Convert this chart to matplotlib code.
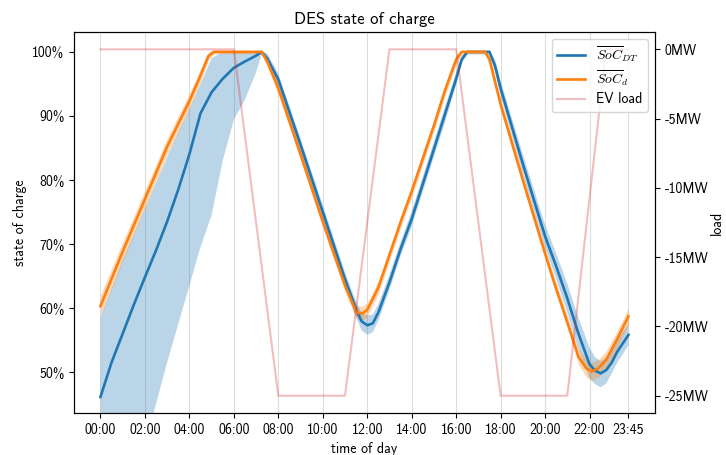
import matplotlib
matplotlib.use("Agg")
import matplotlib.pyplot as plt
import numpy as np
from matplotlib.ticker import FuncFormatter

plt.rcParams['font.family'] = ['cmss10', 'DejaVu Sans']
plt.rcParams['mathtext.fontset'] = 'cm'
plt.rcParams['axes.unicode_minus'] = False

# time of day in hours
t_d = [0, 1, 2, 3, 4, 4.5, 4.85, 5.1, 7.25, 7.5,
       8, 9, 10, 11, 11.5, 11.75, 12, 12.5, 13, 13.5,
       14, 15, 15.5, 16, 16.25, 17.3, 17.5, 18, 19, 20,
       20.5, 21, 21.5, 21.85, 22.1, 22.4, 22.75, 23.25, 23.75]
soc_d = [60.3, 68.8, 77.0, 85.2, 92.3, 96.3, 99.3, 100, 100, 98.5,
         94.3, 84.0, 73.5, 63.5, 59.4, 59.1, 59.7, 63.2, 68.3, 73.4,
         78.2, 88.5, 94.0, 98.8, 100, 100, 98.8, 91.8, 80.0, 68.5,
         63.0, 57.8, 52.4, 50.6, 50.1, 50.6, 51.9, 55.2, 58.7]
soc_d_spread = [1.7, 1.5, 1.4, 1.3, 1.2, 1.0, 0.7, 0.3, 0.3, 0.7,
                0.9, 0.9, 0.9, 0.9, 1.0, 1.1, 1.1, 1.0, 0.9, 0.9,
                0.9, 0.9, 0.9, 0.8, 0.3, 0.3, 0.7, 0.9, 0.9, 0.9,
                0.9, 1.0, 1.2, 1.4, 1.4, 1.4, 1.4, 1.3, 1.3]

t_dt = [0, 0.5, 1, 1.5, 2, 2.5, 3, 3.5, 4, 4.5,
        5, 5.5, 6, 6.5, 7, 7.25, 7.5, 8, 9, 10,
        11, 11.5, 11.75, 12, 12.25, 12.5, 13, 13.5, 14, 15,
        15.5, 16, 16.25, 16.5, 17.5, 17.75, 18, 19, 20, 20.5,
        21, 21.5, 22, 22.25, 22.5, 22.75, 23, 23.25, 23.5, 23.75]
soc_dt = [46.1, 51.5, 56.0, 60.5, 64.8, 69.0, 73.5, 78.5, 84.0, 90.4,
          93.7, 95.8, 97.5, 98.5, 99.4, 100, 99.0, 95.7, 85.5, 75.0,
          64.5, 59.8, 57.9, 57.3, 57.6, 59.3, 64.0, 69.2, 73.9, 84.8,
          90.3, 95.8, 98.8, 100, 100, 97.8, 94.3, 82.5, 71.2, 66.5,
          61.5, 56.0, 51.2, 50.2, 49.8, 50.3, 51.5, 53.2, 54.5, 55.8]
soc_dt_lo = [14, 20.5, 27, 33, 39, 45, 51.5, 57.5, 63.5, 69.5,
             74.5, 83, 89.4, 92.5, 96.8, 99.5, 98.2, 94.8, 84.5, 74.0,
             63.3, 58.5, 56.5, 55.8, 56.2, 58.0, 62.8, 68.1, 72.7, 83.6,
             89.0, 94.8, 98.2, 99.6, 99.6, 96.8, 93.1, 81.0, 69.5, 64.5,
             59.3, 53.6, 49.0, 48.1, 47.6, 48.2, 49.8, 51.5, 52.8, 54.2]
soc_dt_hi = [58.5, 63, 67.5, 71.5, 75.5, 79.5, 83.5, 87.5, 91, 95,
             99, 100, 100, 100, 100, 100, 99.8, 96.6, 86.5, 76.1,
             65.6, 61.0, 59.3, 58.8, 59.0, 60.6, 65.2, 70.3, 75.1, 86.0,
             91.5, 96.8, 99.5, 100, 100, 98.8, 95.5, 84.0, 73.0, 68.5,
             63.8, 58.5, 53.8, 52.3, 51.7, 52.3, 53.3, 55.0, 56.3, 57.5]

t_ev = [0, 6, 8, 11, 13, 16, 18, 21, 22.75, 23.75]
ev_load = [0, 0, -25, -25, 0, 0, -25, -25, 0, 0]

tick_hours = [0, 2, 4, 6, 8, 10, 12, 14, 16, 18, 20, 22, 23.75]
tick_labels = ['00:00', '02:00', '04:00', '06:00', '08:00', '10:00', '12:00',
               '14:00', '16:00', '18:00', '20:00', '22:00', '23:45']

fig = plt.figure(figsize=(7.26, 4.55), dpi=100)
ax = fig.add_axes([0.102, 0.0923, 0.800, 0.8374])

soc_d = np.array(soc_d)
spread = np.array(soc_d_spread)

l1, = ax.plot(t_dt, soc_dt, color='tab:blue', lw=1.9, label=r'$\overline{SoC}_{DT}$')
ax.fill_between(t_dt, soc_dt_lo, soc_dt_hi, color='tab:blue', alpha=0.3, lw=0)
l2, = ax.plot(t_d, soc_d, color='tab:orange', lw=1.9, label=r'$\overline{SoC}_{d}$')
ax.fill_between(t_d, soc_d - spread, np.minimum(soc_d + spread, 100.2),
                color='tab:orange', alpha=0.3, lw=0)

ax.set_ylim(43.6, 103.1)
ax.yaxis.set_major_formatter(FuncFormatter(lambda v, p: f'{v:.0f}%'))
ax.set_ylabel('state of charge')
ax.set_xlabel('time of day')
ax.set_xticks(tick_hours)
ax.set_xticklabels(tick_labels)
ax.grid(axis='x', color='#dddddd', lw=0.8)
ax.set_axisbelow(True)
ax.set_title('DES state of charge')

ax2 = ax.twinx()
l3, = ax2.plot(t_ev, ev_load, color='tab:red', alpha=0.3, lw=1.5, label='EV load')
ax2.set_yticks([0, -5, -10, -15, -20, -25])
ax2.yaxis.set_major_formatter(FuncFormatter(lambda v, p: f'{v:.0f}MW'))
ax2.set_ylabel('load', labelpad=1)

ax2.legend(handles=[l1, l2, l3], loc='upper right', labelspacing=0.3)

fig.savefig('out.png', dpi=100)
